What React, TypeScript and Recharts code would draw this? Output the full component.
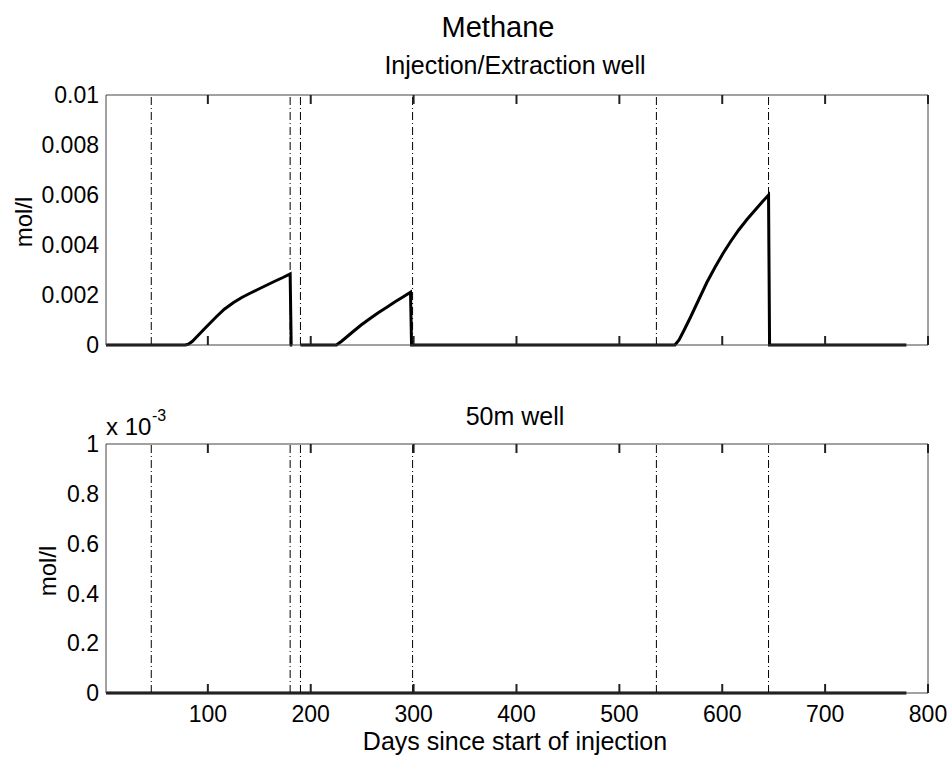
import { LineChart, Line, XAxis, YAxis, ReferenceLine } from 'recharts';

const xTicks = [100, 200, 300, 400, 500, 600, 700, 800];
const topYTicks = [0, 0.002, 0.004, 0.006, 0.008, 0.01];
const bottomYTicks = [0, 0.0002, 0.0004, 0.0006, 0.0008, 0.001];
const eventDays = [45, 180, 190, 299, 536, 645]; // dash-dot markers

// injection/extraction well, methane in mol/l (null = gap in record)
const wellDays = [
  1, 78, 81, 85, 90, 97, 108, 116, 125, 133, 141, 149, 157, 165, 173, 180, 181,
  182, 185, 190, 225, 230, 241, 249, 258, 266, 274, 282, 290, 297, 298, 554, 558,
  563, 569, 577, 585, 593, 601, 608, 616, 624, 632, 639, 645, 646, 779,
];
const wellConc = [
  0, 0, 0.00003, 0.00015, 0.00036, 0.00066, 0.00112, 0.00143, 0.0017, 0.0019,
  0.00207, 0.00223, 0.00239, 0.00255, 0.0027, 0.00284, 0, 0, null, 0, 0, 0.00015,
  0.00053, 0.0008, 0.00107, 0.0013, 0.00151, 0.00173, 0.00193, 0.00211, 0, 0,
  0.0002, 0.0006, 0.0011, 0.0018, 0.0025, 0.00311, 0.00368, 0.00413, 0.0046,
  0.00502, 0.0054, 0.00573, 0.006, 0, 0,
];

// 50m well
const farDays = [1, 779];
const farConc = [0, 0];

const wellRows = wellDays.map((d, i) => ({ day: d, c: wellConc[i] }));
const farRows = farDays.map((d, i) => ({ day: d, c: farConc[i] }));

const FONT = '"Liberation Sans", Arial, Helvetica, sans-serif';
const BOX = '#444';
const TICK_LEN = 9;
const TICK_W = 2;
const TICK_COL = '#222';
const FS = 23;
const X_GAP = 13;
const Y_GAP = 7;
const PLOT_W = 822;

const fmtTop = (v) => (v === 0 ? '0' : String(+v.toFixed(3)));
const fmtBottom = (v) => String(+(v * 1000).toFixed(1));

// labels only on the left / bottom axes
const bottomLabel = (withText) => (p) =>
  withText ? (
    <text x={p.x} y={p.y} dy="0.71em" textAnchor="middle" fill="#000" fontSize={FS}>
      {p.payload.value}
    </text>
  ) : (
    <g />
  );
const leftLabel = (fmt) => (p) => (
  <text x={p.x} y={p.y} dy="0.355em" textAnchor="end" fill="#000" fontSize={FS}>
    {fmt(p.payload.value)}
  </text>
);

// MATLAB style ticks point into the box, on both opposite sides
const topBottomTicks = (plotH) => (p) => (
  <path
    d={`M${p.x},${p.y}v${TICK_LEN}M${p.x},${p.y + plotH}v${-TICK_LEN}`}
    stroke={TICK_COL}
    strokeWidth={TICK_W}
    fill="none"
  />
);
const rightLeftTicks = (p) => (
  <path
    d={`M${p.x},${p.y}h${-TICK_LEN}M${p.x - PLOT_W},${p.y}h${TICK_LEN}`}
    stroke={TICK_COL}
    strokeWidth={TICK_W}
    fill="none"
  />
);

const Panel = ({ rows, yTicks, yFmt, showX, height, top, mTop, mBottom, plotH }) => (
  <div style={{ position: 'absolute', left: 0, top }}>
    <LineChart
      width={951}
      height={height}
      data={rows}
      margin={{ top: mTop, right: 22, bottom: mBottom, left: 46 }}
    >
      <XAxis
        dataKey="day"
        type="number"
        domain={[1, 800]}
        ticks={xTicks}
        interval={0}
        height={showX ? 30 : 1}
        tickSize={0}
        tickMargin={X_GAP}
        tickLine={false}
        tick={bottomLabel(showX)}
        axisLine={{ stroke: BOX }}
      />
      <XAxis
        xAxisId="top"
        orientation="top"
        dataKey="day"
        type="number"
        domain={[1, 800]}
        ticks={xTicks}
        interval={0}
        height={1}
        tickSize={0}
        tickMargin={0}
        tickLine={false}
        tick={topBottomTicks(plotH)}
        axisLine={{ stroke: BOX }}
      />
      <YAxis
        type="number"
        domain={[yTicks[0], yTicks[yTicks.length - 1]]}
        ticks={yTicks}
        interval={0}
        width={60}
        tickSize={0}
        tickMargin={Y_GAP}
        tickLine={false}
        tick={leftLabel(yFmt)}
        axisLine={{ stroke: BOX }}
      />
      <YAxis
        yAxisId="right"
        orientation="right"
        type="number"
        domain={[yTicks[0], yTicks[yTicks.length - 1]]}
        ticks={yTicks}
        interval={0}
        width={1}
        tickSize={0}
        tickMargin={0}
        tickLine={false}
        tick={rightLeftTicks}
        axisLine={{ stroke: BOX }}
      />
      {eventDays.map((d) => (
        <ReferenceLine
          key={d}
          x={d}
          stroke="#000"
          strokeWidth={1}
          strokeDasharray="8 3 1 3"
        />
      ))}
      <Line
        dataKey="c"
        type="linear"
        stroke="#000"
        strokeWidth={3}
        dot={false}
        connectNulls={false}
        isAnimationActive={false}
      />
    </LineChart>
  </div>
);

const txt = (s, extra) => (
  <div
    style={{
      position: 'absolute',
      lineHeight: 1,
      whiteSpace: 'nowrap',
      color: '#000',
      ...extra,
    }}
  >
    {s}
  </div>
);

export default function App() {
  return (
    <div
      style={{
        position: 'absolute',
        left: 0,
        top: 0,
        width: 951,
        height: 758,
        background: '#fff',
        fontFamily: FONT,
        overflow: 'hidden',
      }}
    >
      <Panel
        rows={wellRows}
        yTicks={topYTicks}
        yFmt={fmtTop}
        showX={false}
        height={380}
        top={0}
        mTop={94}
        mBottom={34}
        plotH={250}
      />
      <Panel
        rows={farRows}
        yTicks={bottomYTicks}
        yFmt={fmtBottom}
        showX={true}
        height={378}
        top={380}
        mTop={63}
        mBottom={35}
        plotH={249}
      />

      {txt('Methane', { left: 498, top: 13, fontSize: 29, transform: 'translateX(-50%)' })}
      {txt('Injection/Extraction well', { left: 515, top: 53, fontSize: 25, transform: 'translateX(-50%)' })}
      {txt('50m well', { left: 515, top: 404, fontSize: 25, transform: 'translateX(-50%)' })}
      {txt('Days since start of injection', { left: 515, top: 729, fontSize: 25, transform: 'translateX(-50%)' })}
      {txt('mol/l', { left: 24, top: 222, fontSize: 24, transform: 'translate(-50%, -50%) rotate(-90deg)' })}
      {txt('mol/l', { left: 48, top: 571, fontSize: 24, transform: 'translate(-50%, -50%) rotate(-90deg)' })}
      {txt('x 10', { left: 106, top: 415, fontSize: 24 })}
      {txt('-3', { left: 152, top: 408, fontSize: 16 })}
    </div>
  );
}
